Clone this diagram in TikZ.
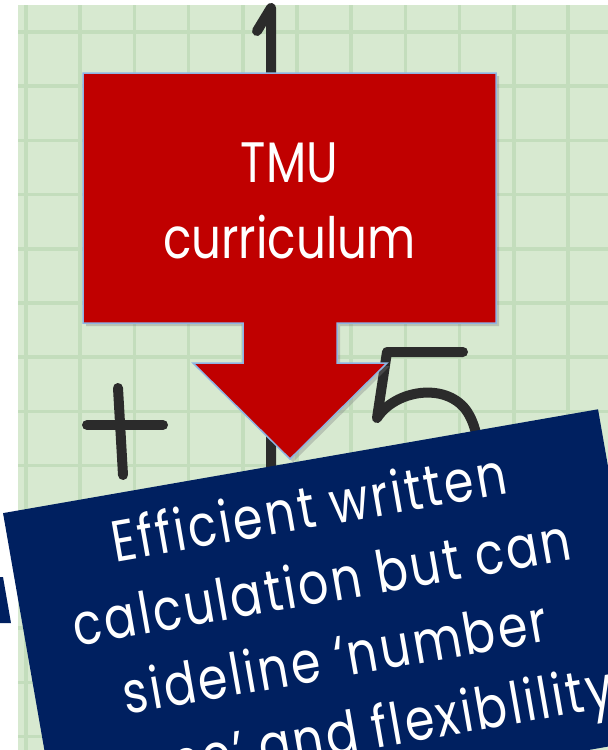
\documentclass[tikz,border=0pt]{standalone}
\usepackage{fontspec}
\setmainfont{Poppins}[FakeStretch=0.82]
\newfontfamily\widefont{Poppins}[FakeStretch=0.82, LetterSpace=4.5]
\usetikzlibrary{shadows}
\definecolor{paper}{HTML}{D7E9D0}
\definecolor{paperline}{HTML}{C3DDBC}
\definecolor{ink}{HTML}{2B2B2B}
\definecolor{tmured}{HTML}{C00000}
\definecolor{tmuedge}{HTML}{8FB4E3}
\definecolor{navy}{HTML}{002060}
\tikzset{
  gridline/.style={paperline, line width=3.5pt},
  digit/.style={ink, line width=10pt, line cap=round, line join=round},
  bigtext/.style={text=white, font=\fontsize{57}{76}\selectfont, align=center, inner sep=0pt},
}

\begin{document}
\begin{tikzpicture}[x=1pt,y=-1pt]
\useasboundingbox (0,0) rectangle (608,750);
\clip (0,0) rectangle (608,750);
\fill[paper] (18,5) rectangle (608,750);
\foreach \k in {0,...,10}
  \draw[gridline] ({26+54.2*\k},5) -- ({26+54.2*\k},750);
\foreach \k in {0,...,13}
  \draw[gridline] (18,{32+54.2*\k}) -- (608,{32+54.2*\k});
\draw[digit] (257,31) -- (271,8) -- (271,500);
\draw[digit] (87,425) -- (163,425);
\draw[digit] (118,388) -- (123,475);
\draw[digit] (463,352) -- (387,352) -- (377,418)
  .. controls (395,390) and (445,382) .. (466,410)
  .. controls (476,424) and (480,445) .. (478,470);
\filldraw[tmured, draw=tmuedge, line width=1.5pt,
  drop shadow={opacity=0.35, shadow xshift=3pt, shadow yshift=-3pt}]
  (83,73) -- (496,73) -- (496,323) -- (337,323) -- (337,363) -- (387,363)
  -- (290,459) -- (193,363) -- (243,363) -- (243,323) -- (83,323) -- cycle;
\node[bigtext] (tmu) at (289.5,201) {TMU\\curriculum};
\fill[navy] (0,577) -- (3,577) -- (11,623) -- (0,623) -- cycle;
\node[bigtext, font=\widefont\fontsize{58}{76}\selectfont, fill=navy, rotate=9.9,
  minimum width=604pt, minimum height=334pt, anchor=north]
  (effbox) at (300.5,461) {Efficient written\\calculation but can\\sideline ‘number\\sense’ and flexiblility};
\end{tikzpicture}
\end{document}
